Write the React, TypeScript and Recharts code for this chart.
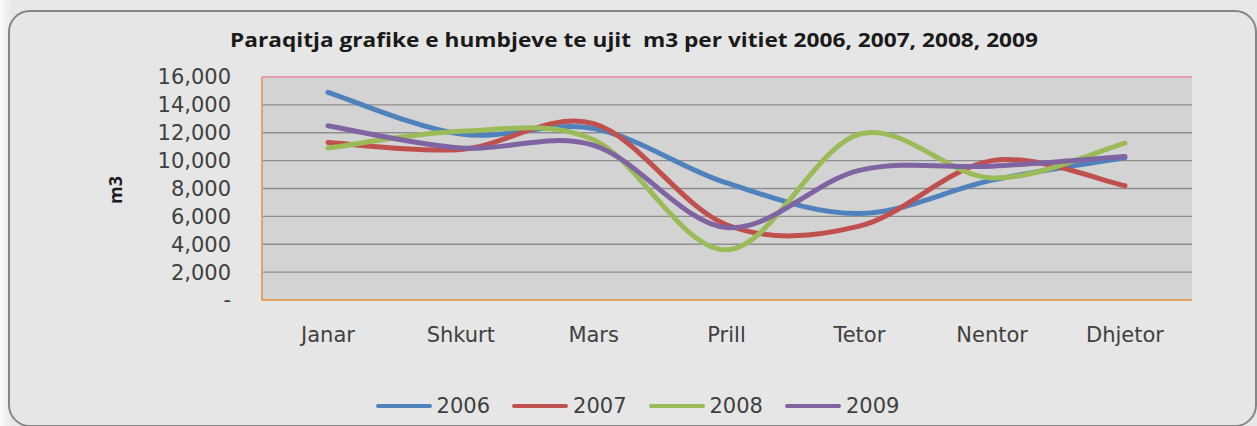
import React from "react";
import { CartesianGrid, Legend, Line, LineChart, ReferenceLine, XAxis, YAxis } from "recharts";

// Water losses (m3) per month, one series per year.
const months = ["Janar", "Shkurt", "Mars", "Prill", "Tetor", "Nentor", "Dhjetor"];
const years = ["2006", "2007", "2008", "2009"];
const s2006 = [14900, 11900, 12300, 8400, 6200, 8600, 10200];
const s2007 = [11300, 10800, 12650, 5400, 5300, 10000, 8200];
const s2008 = [10900, 12100, 11500, 3600, 11900, 8750, 11250];
const s2009 = [12500, 10900, 11100, 5200, 9300, 9600, 10300];
const yTicks = [0, 2000, 4000, 6000, 8000, 10000, 12000, 14000, 16000];

const COLORS = ["#4F81BD", "#C0504D", "#9BBB59", "#8064A2"];

const data = months.map((m, i) => ({
  month: m,
  "2006": s2006[i],
  "2007": s2007[i],
  "2008": s2008[i],
  "2009": s2009[i],
}));

// Excel-style smoothed line: Catmull-Rom through every point.
const smooth = (context: any) => {
  let pts: [number, number][] = [];
  return {
    areaStart() {},
    areaEnd() {},
    lineStart() {
      pts = [];
    },
    point(x: number, y: number) {
      pts.push([+x, +y]);
    },
    lineEnd() {
      if (!pts.length) return;
      context.moveTo(pts[0][0], pts[0][1]);
      for (let i = 0; i < pts.length - 1; i++) {
        const p0 = pts[i - 1] || pts[i];
        const p1 = pts[i];
        const p2 = pts[i + 1];
        const p3 = pts[i + 2] || pts[i + 1];
        context.bezierCurveTo(
          p1[0] + (p2[0] - p0[0]) / 6,
          p1[1] + (p2[1] - p0[1]) / 6,
          p2[0] - (p3[0] - p1[0]) / 6,
          p2[1] - (p3[1] - p1[1]) / 6,
          p2[0],
          p2[1]
        );
      }
    },
  };
};

const FONT = "'DejaVu Sans', sans-serif";

function LegendContent() {
  return (
    <div style={{ display: "flex", justifyContent: "center", alignItems: "center", height: 34, paddingLeft: 18 }}>
      {years.map((y, i) => (
        <div key={y} style={{ display: "flex", alignItems: "center", marginRight: i < years.length - 1 ? 22 : 0 }}>
          <span style={{ display: "inline-block", width: 56, height: 4, borderRadius: 2, background: COLORS[i] }} />
          <span style={{ marginLeft: 5, fontFamily: FONT, fontSize: 21, color: "#404040" }}>{y}</span>
        </div>
      ))}
    </div>
  );
}

export default function App() {
  return (
    <div
      style={{
        position: "absolute",
        left: 0,
        top: 0,
        width: 1257,
        height: 426,
        overflow: "hidden",
        background: "linear-gradient(to right, #fbfbfb 0px, #eeeeee 8px, #e8e8e8 12px)",
      }}
    >
      <div
        style={{
          position: "absolute",
          left: 8,
          top: 10,
          width: 1249,
          height: 417,
          boxSizing: "border-box",
          border: "2px solid #858585",
          borderRadius: 22,
          background: "#e6e6e6",
        }}
      />
      <svg width={1257} height={426} style={{ position: "absolute", left: 0, top: 0 }}>
        <text
          x={634}
          y={47}
          textAnchor="middle"
          textLength={808}
          lengthAdjust="spacingAndGlyphs"
          fontFamily="'Open Sans', sans-serif"
          fontWeight="bold"
          fontSize={19}
          fill="#1a1a1a"
          style={{ whiteSpace: "pre" }}
        >
          {"Paraqitja grafike e humbjeve te ujit  m3 per vitiet 2006, 2007, 2008, 2009"}
        </text>
        <text
          x={115}
          y={190}
          transform="rotate(-90 115 190)"
          textAnchor="middle"
          dominantBaseline="central"
          fontFamily="'Open Sans', sans-serif"
          fontWeight="bold"
          fontSize={18}
          fill="#1a1a1a"
        >
          m3
        </text>
      </svg>
      <div style={{ position: "absolute", left: 0, top: 0 }}>
        <LineChart width={1257} height={426} data={data} margin={{ top: 77, right: 65, bottom: 3, left: 182 }}>
          <CartesianGrid vertical={false} fill="#d3d3d3" stroke="#8e8e8e" strokeWidth={1.3} fillOpacity={1} />
          <XAxis
            dataKey="month"
            height={89}
            padding={{ left: 66, right: 67 }}
            tickLine={false}
            tickSize={0}
            tickMargin={27}
            axisLine={{ stroke: "#dfa25a", strokeWidth: 2 }}
            tick={{ fill: "#404040", fontSize: 21, fontFamily: FONT }}
            interval={0}
          />
          <YAxis
            width={80}
            domain={[0, 16000]}
            ticks={yTicks}
            interval={0}
            tickLine={false}
            tickSize={0}
            tickMargin={31}
            axisLine={{ stroke: "#e3a26a", strokeWidth: 2 }}
            tick={{ fill: "#404040", fontSize: 21, fontFamily: FONT }}
            tickFormatter={(v: number) => (v === 0 ? "-" : v.toLocaleString("en-US"))}
          />
          <YAxis
            yAxisId="right"
            orientation="right"
            width={0}
            domain={[0, 16000]}
            tick={false}
            tickLine={false}
            axisLine={{ stroke: "#e8a848", strokeWidth: 2 }}
          />
          <ReferenceLine y={16000} stroke="#e79ab8" strokeWidth={2} />
          <Legend
            verticalAlign="bottom"
            height={34}
            wrapperStyle={{ left: 0, width: 1257 }}
            content={<LegendContent />}
          />
          {years.map((y, i) => (
            <Line
              key={y}
              dataKey={y}
              type={smooth as any}
              stroke={COLORS[i]}
              strokeWidth={5}
              strokeLinecap="round"
              dot={false}
              activeDot={false}
              isAnimationActive={false}
            />
          ))}
        </LineChart>
      </div>
    </div>
  );
}
